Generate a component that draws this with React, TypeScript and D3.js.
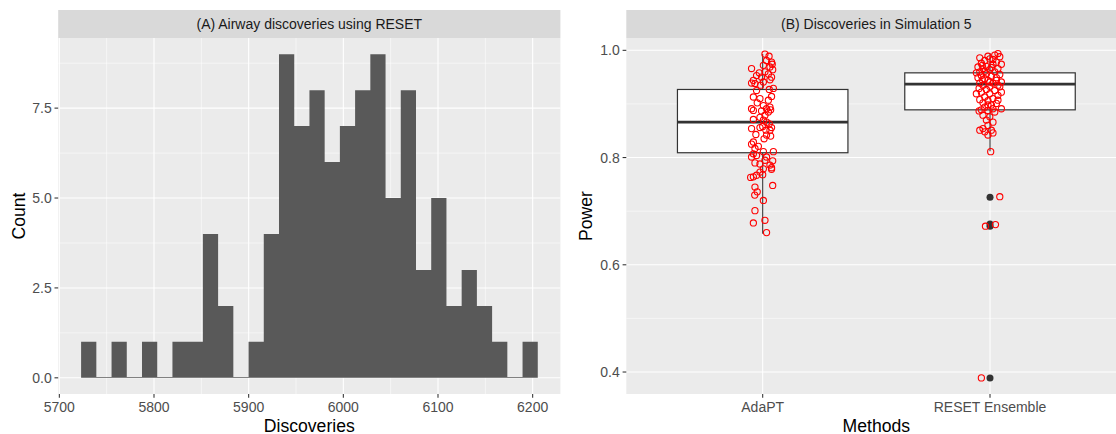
import * as d3 from 'd3';

// (A) histogram of Airway discoveries, 30 bins
const histCounts = [1, 0, 1, 0, 1, 0, 1, 1, 4, 2, 0, 1, 4, 9, 7, 8, 6, 7, 8, 9, 5, 8, 3, 5, 2, 3, 2, 1, 0, 1];
const histFirstEdge = 5723;
const histBinWidth = 16.08;
const discTicks = [5700, 5800, 5900, 6000, 6100, 6200];
const discMinor = [5750, 5850, 5950, 6050, 6150];
const countTicks = [0, 2.5, 5, 7.5];
const countMinor = [1.25, 3.75, 6.25, 8.75];

// (B) power per method
const methods = ['AdaPT', 'RESET Ensemble'];
const boxLower = [0.809, 0.889];
const boxMedian = [0.866, 0.937];
const boxUpper = [0.927, 0.958];
const whiskerLow = [0.658, 0.812];
const whiskerHigh = [0.993, 0.994];
const resetOutliers = [0.726, 0.676, 0.672, 0.389];
const powerTicks = [0.4, 0.6, 0.8, 1.0];
const powerMinor = [0.5, 0.7, 0.9];

const adaptPower = [
  0.993, 0.989, 0.978, 0.974, 0.981, 0.972, 0.966, 0.969, 0.964, 0.960, 0.958, 0.956, 0.953, 0.950, 0.950,
  0.944, 0.945, 0.941, 0.935, 0.938, 0.939, 0.929, 0.927, 0.925, 0.913, 0.910, 0.907, 0.914, 0.902, 0.897,
  0.894, 0.891, 0.891, 0.888, 0.889, 0.887, 0.885, 0.879, 0.875, 0.871, 0.870, 0.866, 0.863, 0.856, 0.858,
  0.854, 0.851, 0.851, 0.856, 0.843, 0.842, 0.840, 0.835, 0.829, 0.825, 0.821, 0.817, 0.807, 0.811, 0.811,
  0.801, 0.804, 0.801, 0.795, 0.794, 0.790, 0.788, 0.786, 0.781, 0.778, 0.779, 0.773, 0.764, 0.763, 0.767,
  0.768, 0.748, 0.745, 0.736, 0.730, 0.720, 0.701, 0.683, 0.678, 0.660,
];
const adaptJitter = [
  0.010, 0.028, 0.039, 0.042, 0.017, 0.003, -0.049, 0.032, 0.044, 0.010, -0.015, 0.025, -0.027, 0.039, -0.005,
  -0.041, 0.032, 0.003, -0.009, -0.034, -0.049, 0.047, 0.029, -0.027, -0.041, -0.012, 0.025, 0.039, -0.024, 0.003,
  0.032, 0.017, -0.049, -0.041, 0.035, -0.005, 0.025, 0.010, -0.012, -0.041, 0.003, 0.017, 0.029, 0.039, 0.000,
  -0.049, 0.014, 0.032, -0.012, -0.030, 0.017, 0.035, 0.006, -0.041, -0.049, -0.019, -0.034, -0.041, 0.047, 0.003,
  -0.049, -0.027, 0.017, 0.010, 0.044, -0.034, -0.012, 0.032, 0.039, 0.039, 0.003, -0.012, -0.041, -0.053, -0.027,
  0.000, 0.044, -0.034, -0.024, -0.035, 0.003, -0.034, 0.010, -0.041, 0.017,
];

const resetPower = [
  0.994, 0.991, 0.988, 0.986, 0.984, 0.981, 0.978, 0.974, 0.976, 0.974, 0.970, 0.969, 0.966, 0.966, 0.964,
  0.960, 0.960, 0.956, 0.955, 0.953, 0.952, 0.949, 0.949, 0.947, 0.944, 0.941, 0.939, 0.939, 0.935, 0.935,
  0.933, 0.929, 0.927, 0.925, 0.922, 0.922, 0.919, 0.916, 0.913, 0.910, 0.908, 0.906, 0.902, 0.901, 0.898,
  0.891, 0.889, 0.888, 0.885, 0.879, 0.876, 0.870, 0.866, 0.860, 0.851, 0.854, 0.851, 0.846, 0.842, 0.848,
  0.811, 0.989, 0.983, 0.972, 0.968, 0.961, 0.958, 0.944, 0.941, 0.945, 0.932, 0.919, 0.898, 0.894, 0.887,
  0.907, 0.891, 0.727, 0.672, 0.675, 0.389,
];
const resetJitter = [
  0.035, 0.021, 0.043, -0.045, -0.001, -0.023, 0.028, 0.050, -0.038, 0.013, -0.016, -0.053, -0.031, 0.035, -0.001,
  -0.045, 0.021, -0.016, 0.043, -0.038, 0.006, -0.053, 0.028, -0.023, -0.009, 0.050, -0.045, 0.013, -0.031, 0.035,
  -0.001, -0.048, -0.016, 0.021, 0.050, -0.038, -0.001, 0.035, -0.023, 0.013, -0.045, -0.009, -0.031, 0.028, 0.006,
  0.050, -0.038, -0.009, 0.021, -0.031, -0.001, -0.016, 0.013, -0.009, -0.045, -0.031, 0.006, 0.013, -0.009, -0.023,
  0.003, -0.009, 0.013, -0.034, 0.006, -0.023, -0.060, 0.028, -0.001, -0.034, 0.043, -0.060, -0.009, -0.023, -0.048,
  0.035, 0.013, 0.043, -0.020, 0.024, -0.038,
];

const W = 1116;
const H = 434;
const font = '"Liberation Sans", Arial, Helvetica, sans-serif';
const panelTop = 38;
const panelBottom = 394;
const panelBg = '#ebebeb';
const tickFont = 14;
const titleFont = 17.6;

function Strip({ x0, x1, label }: { x0: number; x1: number; label: string }) {
  return (
    <g>
      <rect x={x0} y={10} width={x1 - x0} height={panelTop - 10} fill="#d9d9d9" />
      <text x={(x0 + x1) / 2} y={29} textAnchor="middle" fontSize={tickFont} fill="#1a1a1a">{label}</text>
    </g>
  );
}

export default function App() {
  // left panel
  const lx = d3.scaleLinear().domain([5698.8, 6229.3]).range([58.2, 560.4]);
  const ly = d3.scaleLinear().domain([-0.45, 9.45]).range([panelBottom, panelTop]);

  // right panel
  const rx = d3.scaleLinear().domain([0.4, 2.6]).range([626.3, 1126.4]);
  const ry = d3.scaleLinear().domain([0.359, 1.023]).range([panelBottom, panelTop]);
  const unit = rx(2) - rx(1);
  const boxW = 0.75 * unit;

  const [lxa, lxb] = lx.range();
  const [rxa, rxb] = rx.range();

  // histogram drawn as one stepped outline, empty bins as a hairline on the baseline
  const pts: [number, number][] = [[lx(histFirstEdge), ly(0)]];
  histCounts.forEach((c, i) => {
    const h = c > 0 ? c : 0.02;
    pts.push([lx(histFirstEdge + i * histBinWidth), ly(h)]);
    pts.push([lx(histFirstEdge + (i + 1) * histBinWidth), ly(h)]);
  });
  pts.push([lx(histFirstEdge + histCounts.length * histBinWidth), ly(0)]);
  const histPath = d3.line()(pts) + 'Z';

  return (
    <svg width={W} height={H} style={{ position: 'absolute', left: 0, top: 0, fontFamily: font }}>
      <rect width={W} height={H} fill="#fff" />

      {/* ---------- panel A ---------- */}
      <rect x={lxa} y={panelTop} width={lxb - lxa} height={panelBottom - panelTop} fill={panelBg} />
      {discMinor.map(v => <line key={'lxm' + v} x1={lx(v)} x2={lx(v)} y1={panelTop} y2={panelBottom} stroke="#fff" strokeWidth={0.53} />)}
      {countMinor.map(v => <line key={'lym' + v} x1={lxa} x2={lxb} y1={ly(v)} y2={ly(v)} stroke="#fff" strokeWidth={0.53} />)}
      {discTicks.map(v => <line key={'lx' + v} x1={lx(v)} x2={lx(v)} y1={panelTop} y2={panelBottom} stroke="#fff" strokeWidth={1.07} />)}
      {countTicks.map(v => <line key={'ly' + v} x1={lxa} x2={lxb} y1={ly(v)} y2={ly(v)} stroke="#fff" strokeWidth={1.07} />)}
      <path d={histPath} fill="#595959" />
      <Strip x0={lxa} x1={lxb} label="(A) Airway discoveries using RESET" />
      {discTicks.map(v => (
        <g key={'lxt' + v}>
          <line x1={lx(v)} x2={lx(v)} y1={panelBottom} y2={panelBottom + 3.7} stroke="#333" strokeWidth={1.07} />
          <text x={lx(v)} y={411.5} textAnchor="middle" fontSize={tickFont} fill="#4d4d4d">{v}</text>
        </g>
      ))}
      {countTicks.map(v => (
        <g key={'lyt' + v}>
          <line x1={lxa - 3.7} x2={lxa} y1={ly(v)} y2={ly(v)} stroke="#333" strokeWidth={1.07} />
          <text x={lxa - 6.5} y={ly(v) + 5} textAnchor="end" fontSize={tickFont} fill="#4d4d4d">{d3.format('.1f')(v)}</text>
        </g>
      ))}
      <text x={(lxa + lxb) / 2} y={431.5} textAnchor="middle" fontSize={titleFont} fill="#000">Discoveries</text>
      <text transform={`translate(25,${(panelTop + panelBottom) / 2}) rotate(-90)`} textAnchor="middle" fontSize={titleFont} fill="#000">Count</text>

      {/* ---------- panel B ---------- */}
      <rect x={rxa} y={panelTop} width={rxb - rxa} height={panelBottom - panelTop} fill={panelBg} />
      {powerMinor.map(v => <line key={'rym' + v} x1={rxa} x2={rxb} y1={ry(v)} y2={ry(v)} stroke="#fff" strokeWidth={0.53} />)}
      {powerTicks.map(v => <line key={'ry' + v} x1={rxa} x2={rxb} y1={ry(v)} y2={ry(v)} stroke="#fff" strokeWidth={1.07} />)}
      {methods.map((m, i) => <line key={'rx' + m} x1={rx(i + 1)} x2={rx(i + 1)} y1={panelTop} y2={panelBottom} stroke="#fff" strokeWidth={1.07} />)}

      {methods.map((m, i) => {
        const cx = rx(i + 1);
        return (
          <g key={'box' + m}>
            <line x1={cx} x2={cx} y1={ry(whiskerHigh[i])} y2={ry(boxUpper[i])} stroke="#333" strokeWidth={1.07} />
            <line x1={cx} x2={cx} y1={ry(boxLower[i])} y2={ry(whiskerLow[i])} stroke="#333" strokeWidth={1.07} />
            <rect x={cx - boxW / 2} y={ry(boxUpper[i])} width={boxW} height={ry(boxLower[i]) - ry(boxUpper[i])}
              fill="#fff" stroke="#333" strokeWidth={1.2} />
            <line x1={cx - boxW / 2} x2={cx + boxW / 2} y1={ry(boxMedian[i])} y2={ry(boxMedian[i])} stroke="#333" strokeWidth={2.8} />
          </g>
        );
      })}
      {resetOutliers.map((v, i) => <circle key={'o' + i} cx={rx(2)} cy={ry(v)} r={3.5} fill="#333" />)}
      {adaptPower.map((v, i) => (
        <circle key={'a' + i} cx={rx(1 + adaptJitter[i])} cy={ry(v)} r={3.1} fill="none" stroke="#ff0000" strokeWidth={1.1} />
      ))}
      {resetPower.map((v, i) => (
        <circle key={'r' + i} cx={rx(2 + resetJitter[i])} cy={ry(v)} r={3.1} fill="none" stroke="#ff0000" strokeWidth={1.1} />
      ))}

      <Strip x0={rxa} x1={rxb} label="(B) Discoveries in Simulation 5" />
      {methods.map((m, i) => (
        <g key={'rxt' + m}>
          <line x1={rx(i + 1)} x2={rx(i + 1)} y1={panelBottom} y2={panelBottom + 3.7} stroke="#333" strokeWidth={1.07} />
          <text x={rx(i + 1)} y={411.5} textAnchor="middle" fontSize={tickFont} fill="#4d4d4d">{m}</text>
        </g>
      ))}
      {powerTicks.map(v => (
        <g key={'ryt' + v}>
          <line x1={rxa - 3.7} x2={rxa} y1={ry(v)} y2={ry(v)} stroke="#333" strokeWidth={1.07} />
          <text x={rxa - 6.5} y={ry(v) + 5} textAnchor="end" fontSize={tickFont} fill="#4d4d4d">{d3.format('.1f')(v)}</text>
        </g>
      ))}
      <text x={(rxa + rxb) / 2} y={431.5} textAnchor="middle" fontSize={titleFont} fill="#000">Methods</text>
      <text transform={`translate(592,${(panelTop + panelBottom) / 2}) rotate(-90)`} textAnchor="middle" fontSize={titleFont} fill="#000">Power</text>
    </svg>
  );
}
